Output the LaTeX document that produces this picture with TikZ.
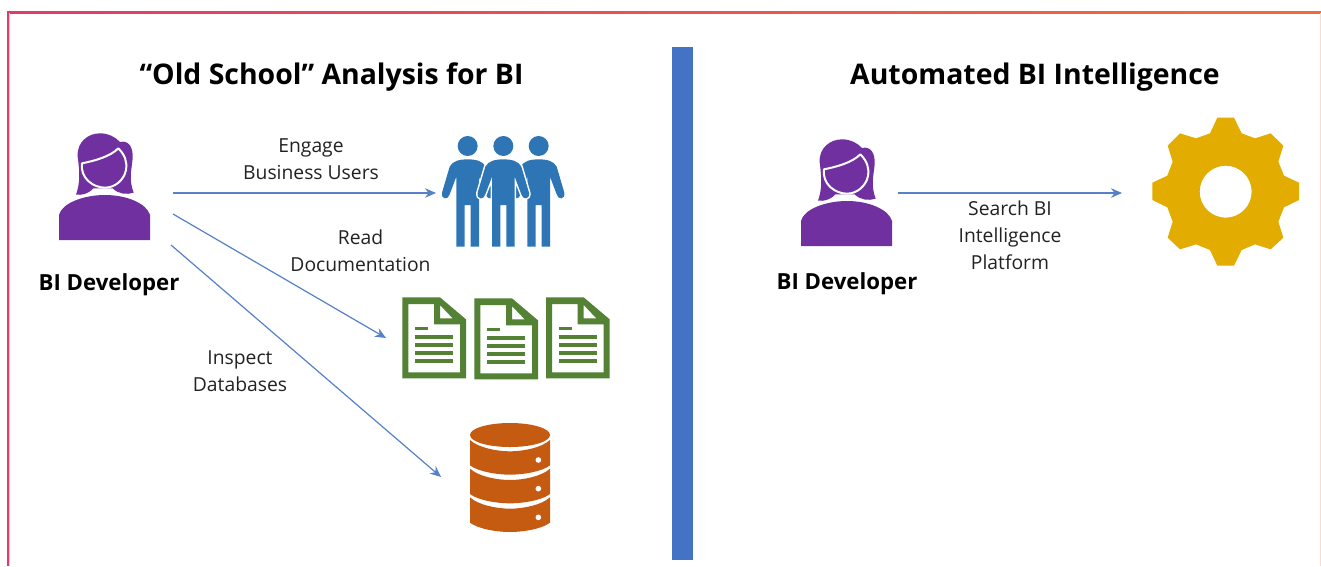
\documentclass[tikz,border=0pt]{standalone}
\usepackage{fontspec}
\setmainfont{Open Sans}
\usetikzlibrary{arrows.meta}
\definecolor{purp}{HTML}{7030A0}
\definecolor{peopleblue}{HTML}{2E75B6}
\definecolor{docgreen}{HTML}{548235}
\definecolor{dborange}{HTML}{C55A11}
\definecolor{gearyellow}{HTML}{E2AC00}
\definecolor{barblue}{HTML}{4472C4}
\definecolor{framepink}{HTML}{E43A6B}
\definecolor{frameorange}{HTML}{F26A3C}
\definecolor{txt}{HTML}{222222}
\tikzset{
  title/.style={font=\fontsize{28.4}{32}\selectfont\bfseries,text=black,inner sep=0pt,anchor=center},
  lab/.style={font=\fontsize{19.3}{27}\selectfont,text=txt,inner sep=0pt,align=center,anchor=center},
  devlab/.style={font=\fontsize{22.2}{26}\selectfont\bfseries,text=black,inner sep=0pt,anchor=center},
  conn/.style={draw=barblue!90,line width=1.2pt,-{Stealth[length=11pt,width=9.5pt]}},
  slot/.style={inner sep=0pt,minimum width=1pt,minimum height=1pt},
  zoomed/.style={x=0.33333pt,y=-0.33333pt},
  pics/woman/.style={code={
    \begin{scope}[zoomed]
      \fill[purp] (87,360) -- (87,285) .. controls (95,250) and (160,225) .. (225,225) .. controls (290,225) and (350,250) .. (360,285) -- (360,360) -- cycle;
      \fill[purp] (138,224) .. controls (150,190) and (150,160) .. (143,110) .. controls (140,65) and (175,40) .. (210,40) .. controls (235,40) and (255,50) .. (270,66) .. controls (295,60) and (310,80) .. (308,115) .. controls (305,150) and (295,175) .. (311,218) .. controls (290,225) and (265,222) .. (248,205) -- (190,205) .. controls (175,222) and (155,226) .. (138,224) -- cycle;
      \draw[white,line width=2pt,fill=purp,line join=round] (156,130) .. controls (195,122) and (240,110) .. (265,85) .. controls (285,105) and (292,125) .. (288,150) .. controls (282,180) and (255,203) .. (225,203) .. controls (190,203) and (150,175) .. (156,130) -- cycle;
    \end{scope}}},
  pics/figure/.style={code={
    \begin{scope}[zoomed]
      \path[pic actions] (0,63) circle (30);
      \path[pic actions] (0,103) .. controls (25,103) and (45,108) .. (54,125) -- (77,203) .. controls (80,225) and (58,225) .. (54,208) -- (34,155) -- (34,365) -- (9,365) -- (9,240) -- (-9,240) -- (-9,365) -- (-34,365) -- (-34,155) -- (-54,208) .. controls (-58,225) and (-80,225) .. (-77,203) -- (-54,125) .. controls (-45,108) and (-25,103) .. (0,103) -- cycle;
    \end{scope}}},
  pics/doc/.style={code={
    \begin{scope}[zoomed]
      \fill[docgreen,even odd rule] (97,37) -- (210,37) -- (288,103) -- (288,280) -- (97,280) -- cycle
        (115,57) -- (115,262) -- (270,262) -- (270,118) -- (192,118) -- (192,57) -- cycle
        (210,60) -- (210,100) -- (248,100) -- cycle;
      \fill[docgreen] (135,125) rectangle (175,136);
      \foreach \yy in {149,173,198,222} \fill[docgreen] (135,\yy) rectangle (250,\yy+12);
    \end{scope}}},
  pics/dbicon/.style={code={
    \begin{scope}[zoomed]
      \fill[dborange] (240,75) ellipse [x radius=120, y radius=36];
      \foreach \dy in {0,86,172} {
        \fill[dborange] (120,{90+\dy}) .. controls (145,{113+\dy}) and (200,{124+\dy}) .. (240,{124+\dy}) .. controls (280,{124+\dy}) and (335,{113+\dy}) .. (360,{90+\dy}) -- (360,{166+\dy}) .. controls (335,{185+\dy}) and (280,{194+\dy}) .. (240,{194+\dy}) .. controls (200,{194+\dy}) and (145,{185+\dy}) .. (120,{166+\dy}) -- cycle;
        \fill[white] (325,{150+\dy}) circle (8.5);
      }
    \end{scope}}},
  pics/gear/.style={code={
    \begin{scope}[zoomed]
      \fill[gearyellow,even odd rule] (262,38) -- (312,38) -- (335,85) -- (375,100) -- (422,85) -- (460,122) -- (445,170) -- (462,212) -- (507,233) -- (507,285) -- (462,307) -- (445,350) -- (460,398) -- (422,433) -- (375,418) -- (335,435) -- (312,482) -- (262,482) -- (240,435) -- (198,418) -- (150,433) -- (113,398) -- (128,350) -- (112,307) -- (67,285) -- (67,233) -- (112,212) -- (128,170) -- (113,122) -- (150,85) -- (198,100) -- (240,85) -- cycle
        (287,260) circle (78);
    \end{scope}}}
}
\begin{document}
\begin{tikzpicture}[x=1pt,y=-1pt]
\useasboundingbox (0,0) rectangle (1321,566);
\fill[white] (0,0) rectangle (1321,566);
% frame
\shade[left color=framepink,right color=frameorange] (7,11) rectangle (1321,13.2);
\fill[framepink] (7,11) rectangle (9,566);
\fill[framepink!30] (9,13) rectangle (9.8,566);
\fill[frameorange!25] (1320,13) rectangle (1321,566);
% divider
\node[slot,fill=barblue,minimum width=21pt,minimum height=513pt] (divider) at (682.5,303.5) {};
% titles
\node[title] (t1) at (331.5,77.5) {“Old School” Analysis for BI};
\node[title] (t2) at (1035,77.5) {Automated BI Intelligence};
% icons
\pic at (30,120) {woman};
\pic at (772,126) {woman};
\pic[fill=peopleblue] at (467.67,125) {figure};
\pic[fill=peopleblue] at (538.67,125) {figure};
\pic[draw=white,line width=3pt] at (503.33,125) {figure};
\pic[fill=peopleblue] at (503.33,125) {figure};
\pic at (370,285) {doc};
\pic at (442,286) {doc};
\pic at (513.67,285) {doc};
\pic at (430,410) {dbicon};
\pic at (1130,105) {gear};
% labels
\node[devlab] (dev1) at (109,284.5) {BI Developer};
\node[devlab] (dev2) at (847,283.5) {BI Developer};
\node[lab] (l1) at (311,159) {Engage\\Business Users};
\node[lab] (l2) at (360.5,251) {Read\\Documentation};
\node[lab] (l3) at (240,371.5) {Inspect\\Databases};
\node[lab] (l4) at (1010,235) {Search BI\\Intelligence\\Platform};
% connector ends
\coordinate (a0) at (173,193); \coordinate (a1) at (436,193);
\coordinate (b0) at (173,214); \coordinate (b1) at (386,338);
\coordinate (c0) at (171,245); \coordinate (c1) at (441,477);
\coordinate (d0) at (898,193); \coordinate (d1) at (1122,193);
\draw[conn] (a0) -- (a1);
\draw[conn] (b0) -- (b1);
\draw[conn] (c0) -- (c1);
\draw[conn] (d0) -- (d1);
\end{tikzpicture}
\end{document}
